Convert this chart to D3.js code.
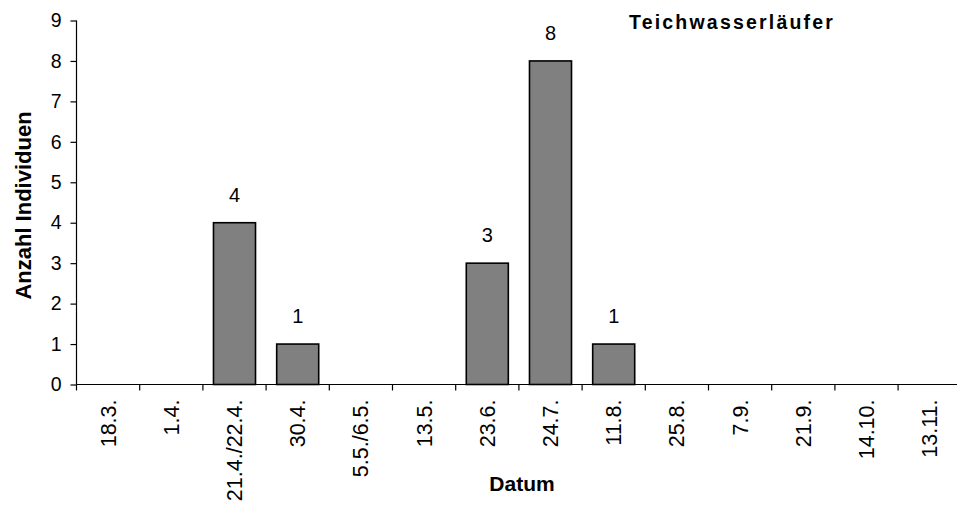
<!DOCTYPE html>
<html>
<head>
<meta charset="utf-8">
<script src="https://cdn.jsdelivr.net/npm/d3@7"></script>
<style>
  html, body { margin: 0; padding: 0; background: #fff; }
  svg { display: block; }
  text { font-family: Arial, "Liberation Sans", sans-serif; fill: #000; }
</style>
</head>
<body>
<svg id="chart" width="957" height="505"></svg>
<script>
// Beobachtungstermine und Anzahl gezählter Teichwasserläufer
const dates = ["18.3.", "1.4.", "21.4./22.4.", "30.4.", "5.5./6.5.", "13.5.", "23.6.", "24.7.", "11.8.", "25.8.", "7.9.", "21.9.", "14.10.", "13.11."];
const counts = [0, 0, 4, 1, 0, 0, 3, 8, 1, 0, 0, 0, 0, 0];
const yTicks = [0, 1, 2, 3, 4, 5, 6, 7, 8, 9];

const chartTitle = "Teichwasserläufer";
const yTitle = "Anzahl Individuen";
const xTitle = "Datum";

const svg = d3.select("#chart");

const plot = { left: 76.5, right: 961.3, top: 20.5, bottom: 384.5 };
const gap = 0.335;

const x = d3.scaleBand()
  .domain(dates)
  .range([plot.left, plot.right])
  .paddingInner(gap)
  .paddingOuter(gap / 2);

const y = d3.scaleLinear()
  .domain([0, 9])
  .range([plot.bottom, plot.top]);

const rows = dates.map((d, i) => ({ date: d, value: counts[i] }));
const nonZero = rows.filter(d => d.value > 0);

// Balken
svg.append("g")
  .selectAll("rect")
  .data(nonZero)
  .join("rect")
  .attr("x", d => x(d.date))
  .attr("y", d => y(d.value))
  .attr("width", x.bandwidth())
  .attr("height", d => y(0) - y(d.value))
  .attr("fill", "#808080")
  .attr("stroke", "#000")
  .attr("stroke-width", 1.6);

// Werte über den Balken
svg.append("g")
  .selectAll("text")
  .data(nonZero)
  .join("text")
  .attr("x", d => x(d.date) + x.bandwidth() / 2)
  .attr("y", d => y(d.value) - 21)
  .attr("text-anchor", "middle")
  .style("font-size", "20px")
  .text(d => d.value);

// y-Achse
const yAxis = svg.append("g")
  .attr("transform", `translate(${plot.left},0)`)
  .call(d3.axisLeft(y).tickValues(yTicks).tickFormat(d3.format("d")).tickSize(6).tickPadding(9));
yAxis.select(".domain").attr("d", `M0,${plot.top}V${plot.bottom}`).attr("stroke", "#000").attr("stroke-width", 1.2);
yAxis.selectAll(".tick line").attr("stroke", "#000").attr("stroke-width", 1.2);
yAxis.selectAll(".tick text").style("font-size", "19.5px").style("font-family", "Arial, 'Liberation Sans', sans-serif");

// x-Achse: Linie mit Teilstrichen an den Kategoriegrenzen
const step = x.step();
const xAxis = svg.append("g");
xAxis.append("line")
  .attr("x1", plot.left).attr("x2", plot.right)
  .attr("y1", y(0)).attr("y2", y(0))
  .attr("stroke", "#000").attr("stroke-width", 1.2);
xAxis.selectAll("line.tick")
  .data(dates)
  .join("line")
  .attr("class", "tick")
  .attr("x1", d => x(d) + x.bandwidth() / 2 - step / 2)
  .attr("x2", d => x(d) + x.bandwidth() / 2 - step / 2)
  .attr("y1", y(0)).attr("y2", y(0) + 6)
  .attr("stroke", "#000").attr("stroke-width", 1.2);

xAxis.selectAll("text")
  .data(dates)
  .join("text")
  .attr("transform", d => `translate(${x(d) + x.bandwidth() / 2},${y(0) + 15}) rotate(-90)`)
  .attr("text-anchor", "end")
  .attr("dy", "0.35em")
  .style("font-size", "21.5px")
  .text(d => d);

// Achsentitel
svg.append("text")
  .attr("transform", `translate(23,${(plot.top + plot.bottom) / 2 + 3}) rotate(-90)`)
  .attr("text-anchor", "middle")
  .attr("dy", "0.35em")
  .style("font-size", "22px")
  .style("font-weight", "bold")
  .text(yTitle);

svg.append("text")
  .attr("x", 522)
  .attr("y", 490.5)
  .attr("text-anchor", "middle")
  .style("font-size", "21px")
  .style("font-weight", "bold")
  .text(xTitle);

// Diagrammtitel
svg.append("text")
  .attr("x", 629)
  .attr("y", 29)
  .style("font-size", "19.5px")
  .style("font-weight", "bold")
  .style("letter-spacing", "2.2px")
  .text(chartTitle);
</script>
</body>
</html>
